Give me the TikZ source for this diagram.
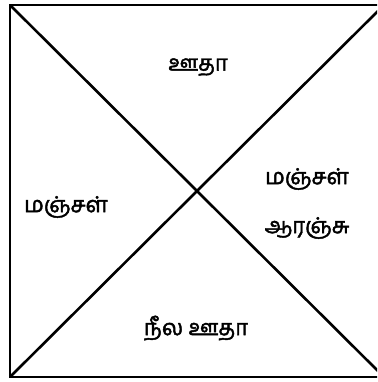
\documentclass[tikz,border=0pt]{standalone}
\usepackage{fontspec}
\newfontfamily\tamilfont[Script=Tamil,FakeBold=2]{Hind Madurai}
\begin{document}
\begin{tikzpicture}[x=1pt,y=-1pt,
  lbl/.style={font=\tamilfont\fontsize{22}{26}\selectfont, inner sep=0pt},
  edge/.style={line width=2.6pt}]
\useasboundingbox (0,0) rectangle (377,382);
\clip (0,0) rectangle (377,382);
\coordinate (tl) at (10,5);
\coordinate (tr) at (384,5);
\coordinate (bl) at (10,377);
\coordinate (br) at (384,377);
\draw[edge, line join=miter] (tl) -- (tr) -- (br) -- (bl) -- cycle;
\draw[edge] (tl) -- (br);
\draw[edge] (bl) -- (tr);
\node[lbl] (top) at (198,67) {ஊதா};
\node[lbl] (left) at (66,207) {மஞ்சள்};
\node[lbl] (right1) at (307,179) {மஞ்சள்};
\node[lbl] (right2) at (307,228) {ஆரஞ்சு};
\node[lbl] (bottom) at (196,328) {நீல ஊதா};
\end{tikzpicture}
\end{document}
